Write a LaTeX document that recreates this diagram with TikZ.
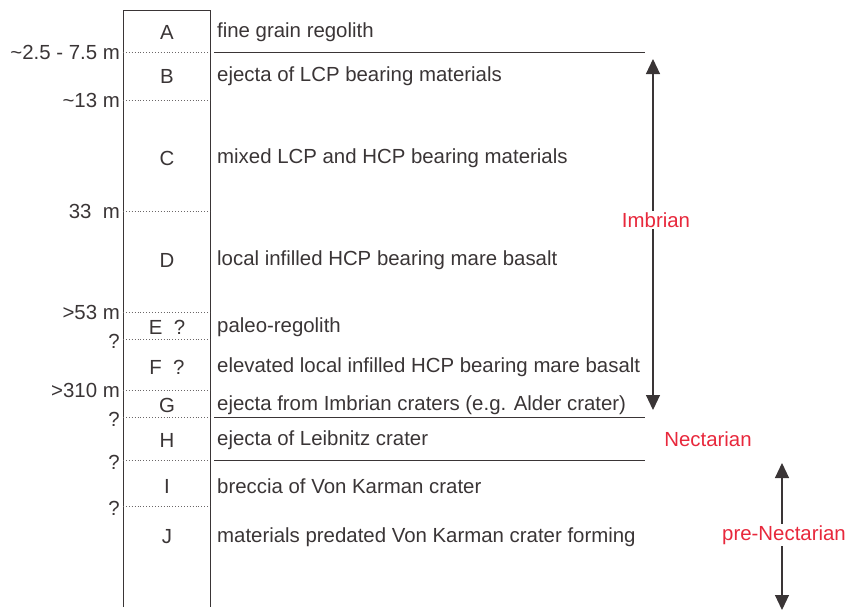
\documentclass[tikz,border=0pt]{standalone}
\usepackage{fontspec}
\setmainfont{Liberation Sans}
\usetikzlibrary{positioning}
\usetikzlibrary{arrows.meta}
\definecolor{ink}{HTML}{3A3536}
\definecolor{agered}{HTML}{E8283C}

\begin{document}
\begin{tikzpicture}[x=1pt, y=-1pt, font=\fontsize{20.4}{24}\selectfont, text=ink,
  desc/.style={anchor=west, inner sep=0pt},
  depth/.style={anchor=east, inner sep=0pt},
  bound/.style={draw=ink!75, dotted, line width=0.9pt},
  contact/.style={draw=ink, line width=1pt},
  age/.style={text=agered, fill=white, inner sep=1.5pt},
  span/.style={draw=ink, line width=1.1pt, {Triangle[length=15pt,width=14pt]}-{Triangle[length=15pt,width=14pt]}}]
\useasboundingbox (0,0) rectangle (852,611);
\def\colL{123}
\def\colR{210}
\def\colM{167}
\def\txtx{217}
% column
\draw[ink, line width=1pt] (\colL,607) -- (\colL,10) -- (\colR,10) -- (\colR,607);
% unit letters and descriptions
\foreach \y/\lab/\txt [count=\i] in {
  32/A/fine grain regolith,
  76/B/ejecta of LCP bearing materials,
  158/C/mixed LCP and HCP bearing materials,
  260/D/local infilled HCP bearing mare basalt,
  327/E\ \ ?/paleo-regolith,
  367/F\ \ ?/elevated local infilled HCP bearing mare basalt,
  405/G/ejecta from Imbrian craters (e.g. Alder crater),
  440/H/ejecta of Leibnitz crater,
  486/I/breccia of Von Karman crater,
  537/J/materials predated Von Karman crater forming}{
  \node (unit\i) at (\colM,\y) {\lab};
  \node[desc] (desc\i) at (\txtx,\y) {\txt};
}
% depth boundaries
\foreach \y/\d [count=\i] in {
  52/{\textasciitilde 2.5 - 7.5 m},
  100/{\textasciitilde 13 m},
  211/{33\ \ m},
  312/{>53 m},
  341/{?},
  390/{>310\ m},
  419/{?},
  462/{?},
  508/{?}}{
  \node[depth] (dep\i) at (120,\y) {\d};
}
\foreach \y in {52,100,211,312,339,390,417,460,506}
  \draw[bound] (\colL,\y) -- (\colR,\y);
% age contacts
\draw[contact] (214,52) -- (645,52);
\draw[contact] (214,417) -- (645,417);
\draw[contact] (214,460) -- (645,460);
% ages
\coordinate (imbTop) at (653,59);
\coordinate (imbBot) at (653,410);
\draw[span] (imbTop) -- (imbBot) node[age, pos=0.46, xshift=3pt] (imb) {Imbrian};
\node[age, fill=none] (nect) at (708,439) {Nectarian};
\coordinate (preTop) at (782,463);
\coordinate (preBot) at (782,610);
\draw[span] (preTop) -- (preBot) node[age, pos=0.49, xshift=2pt] (pre) {pre-Nectarian};
\end{tikzpicture}
\end{document}
